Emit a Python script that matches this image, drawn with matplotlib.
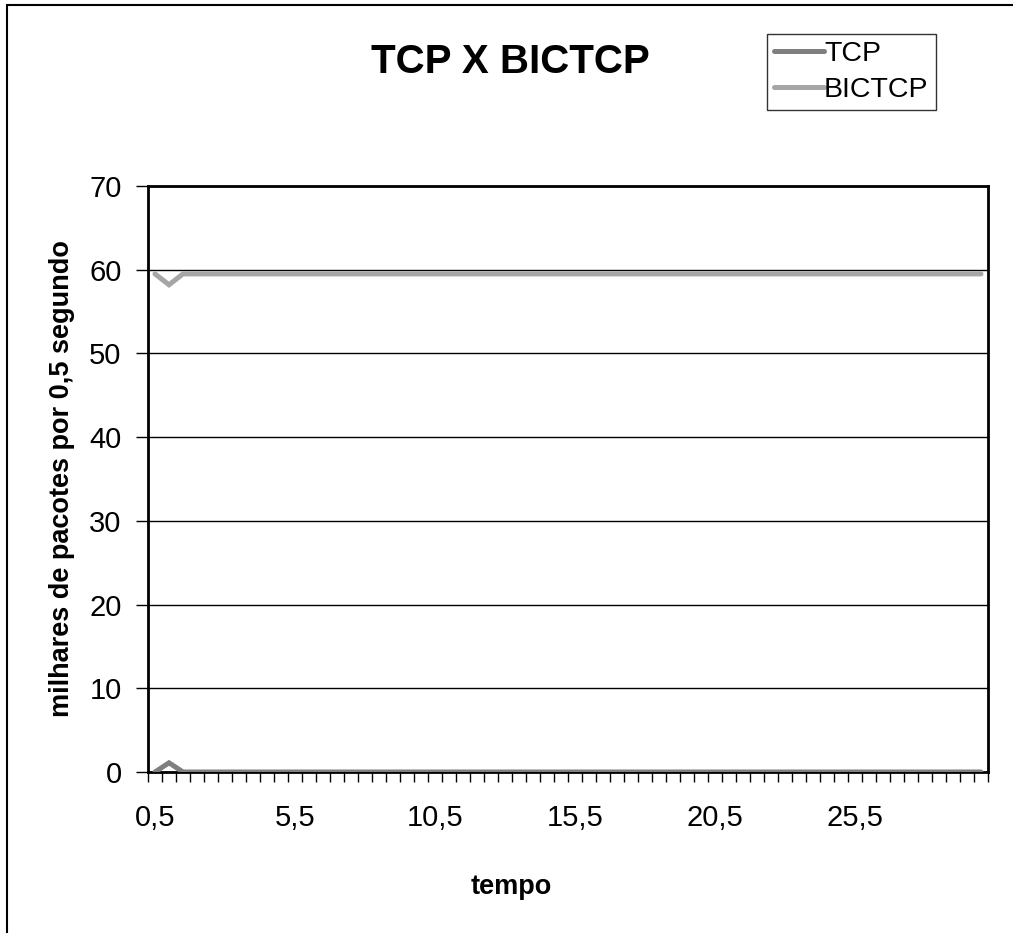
import matplotlib
matplotlib.use('Agg')
import matplotlib.pyplot as plt
from matplotlib.patches import Rectangle

plt.rcParams['font.family'] = ['Liberation Sans', 'DejaVu Sans']

tempo = ['0,5', '1', '1,5', '2', '2,5', '3', '3,5', '4', '4,5', '5',
         '5,5', '6', '6,5', '7', '7,5', '8', '8,5', '9', '9,5', '10',
         '10,5', '11', '11,5', '12', '12,5', '13', '13,5', '14', '14,5', '15',
         '15,5', '16', '16,5', '17', '17,5', '18', '18,5', '19', '19,5', '20',
         '20,5', '21', '21,5', '22', '22,5', '23', '23,5', '24', '24,5', '25',
         '25,5', '26', '26,5', '27', '27,5', '28', '28,5', '29', '29,5', '30']

tcp = [0, 1.1, 0, 0, 0, 0, 0, 0, 0, 0,
       0, 0, 0, 0, 0, 0, 0, 0, 0, 0,
       0, 0, 0, 0, 0, 0, 0, 0, 0, 0,
       0, 0, 0, 0, 0, 0, 0, 0, 0, 0,
       0, 0, 0, 0, 0, 0, 0, 0, 0, 0,
       0, 0, 0, 0, 0, 0, 0, 0, 0, 0]

bictcp = [59.5, 58.2, 59.5, 59.5, 59.5, 59.5, 59.5, 59.5, 59.5, 59.5,
          59.5, 59.5, 59.5, 59.5, 59.5, 59.5, 59.5, 59.5, 59.5, 59.5,
          59.5, 59.5, 59.5, 59.5, 59.5, 59.5, 59.5, 59.5, 59.5, 59.5,
          59.5, 59.5, 59.5, 59.5, 59.5, 59.5, 59.5, 59.5, 59.5, 59.5,
          59.5, 59.5, 59.5, 59.5, 59.5, 59.5, 59.5, 59.5, 59.5, 59.5,
          59.5, 59.5, 59.5, 59.5, 59.5, 59.5, 59.5, 59.5, 59.5, 59.5]

W, H = 1013, 933
fig = plt.figure(figsize=(W / 100, H / 100), dpi=100)

# outer chart frame (cut off at right and bottom)
fig.patches.append(Rectangle((7 / W, -0.1), 1.2, 1 - 5 / H + 0.1,
                             transform=fig.transFigure, fill=False,
                             edgecolor='black', linewidth=1.5))

ax = fig.add_axes([148 / W, 1 - 772 / H, (988 - 148) / W, (772 - 186) / H])

x = list(range(len(tempo)))
ax.plot(x, tcp, color='#7f7f7f', linewidth=3.6, label='TCP',
        solid_capstyle='round', solid_joinstyle='miter', zorder=3)
ax.plot(x, bictcp, color='#a6a6a6', linewidth=3.6, label='BICTCP',
        solid_capstyle='round', solid_joinstyle='miter', zorder=3)

ax.set_xlim(-0.5, len(tempo) - 0.5)
ax.set_ylim(0, 70)
ax.set_yticks(range(0, 71, 10))
ax.yaxis.grid(True, color='black', linewidth=1)
ax.set_axisbelow(True)

# ticks between categories, labels every 10 categories
ax.set_xticks([i - 0.5 for i in range(len(tempo) + 1)])
ax.set_xticklabels([])
ax.set_xticks(x[::10], minor=True)
ax.set_xticklabels(tempo[::10], minor=True, fontsize=21)
ax.tick_params(axis='x', which='major', direction='out', length=7, width=1)
ax.tick_params(axis='x', which='minor', length=0, pad=23)
ax.tick_params(axis='y', direction='out', length=9, width=1, labelsize=21, pad=10)

for s in ax.spines.values():
    s.set_linewidth(2)

ax.set_ylabel('milhares de pacotes por 0,5 segundo', fontsize=19.5,
              fontweight='bold', labelpad=10)
ax.set_xlabel('tempo', fontsize=19.5, fontweight='bold', labelpad=30)
ax.xaxis.label.set_x((511 - 148) / (988 - 148))

fig.text(510 / W, 1 - 62 / H, 'TCP X BICTCP', fontsize=29, fontweight='bold',
         ha='center', va='center')

leg = fig.legend(loc='upper left', bbox_to_anchor=(767 / W, 1 - 34 / H),
                 fontsize=20.5, frameon=True, fancybox=False, handlelength=1.75,
                 handletextpad=0.0, borderpad=0.25, labelspacing=0.33,
                 borderaxespad=0)
leg.get_frame().set_edgecolor('black')
leg.get_frame().set_linewidth(1)

fig.savefig('out.png', dpi=100)
